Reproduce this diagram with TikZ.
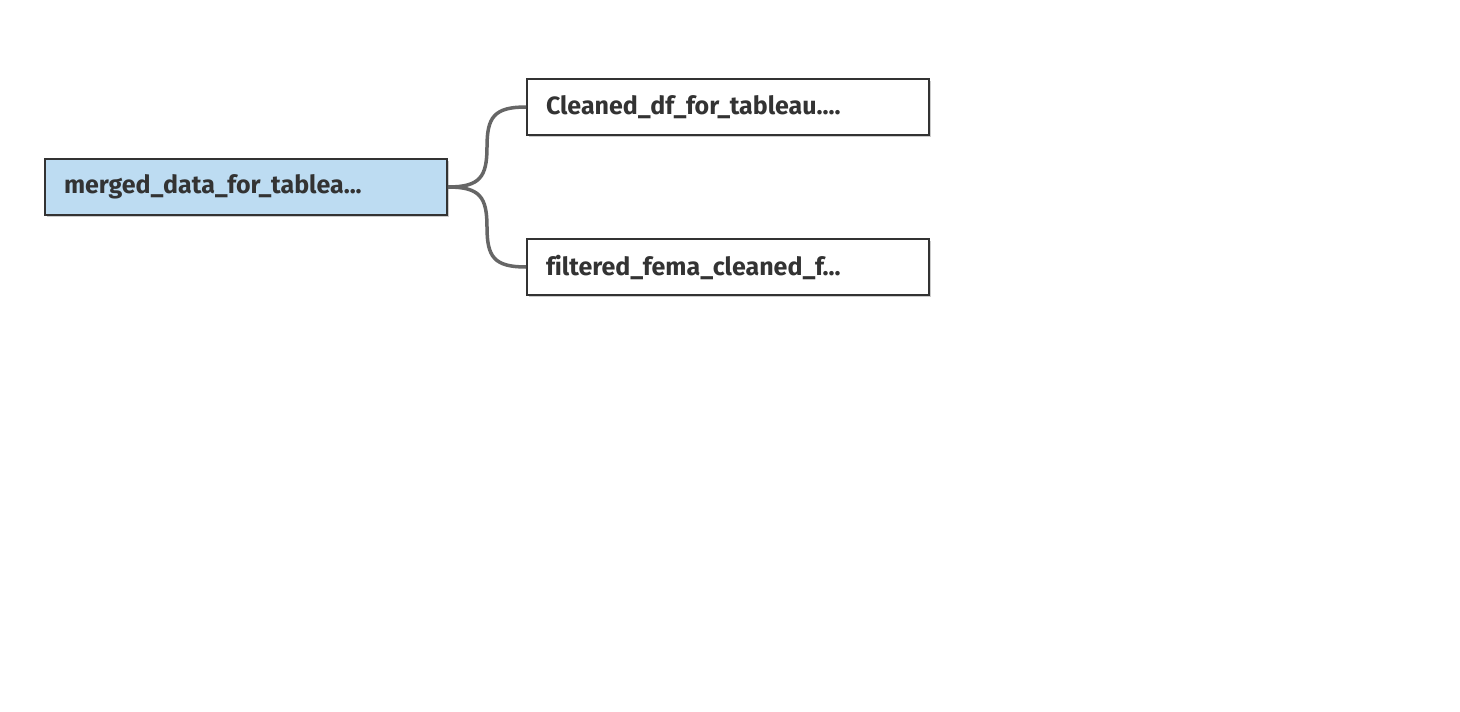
\documentclass[tikz,border=0pt]{standalone}
\usepackage{fontspec}
\setmainfont[Ligatures=NoCommon]{Fira Sans}
\usetikzlibrary{shadows}
\definecolor{boxline}{HTML}{333333}
\definecolor{txt}{HTML}{333333}
\definecolor{sel}{HTML}{BDDCF2}
\definecolor{conn}{HTML}{666666}
\begin{document}
\begin{tikzpicture}[x=1pt,y=-1pt,
  tbox/.style={draw=boxline, line width=1.8pt, fill=white, minimum width=402pt, minimum height=56pt,
    inner sep=0pt, text width=364pt, align=left, text=txt, font=\fontsize{25}{28}\selectfont\bfseries,
    drop shadow={shadow xshift=1.5pt, shadow yshift=-1.5pt, fill=black, opacity=0.2}},
  conn/.style={draw=conn, line width=3.5pt}]
\useasboundingbox[fill=white] (0,0) rectangle (1460,712);
\node[tbox, fill=sel] (m) at (246,187) {merged\_data\_for\_tablea...};
\node[tbox] (c) at (728,107) {Cleaned\_df\_for\_tableau....};
\node[tbox] (f) at (728,267) {filtered\_fema\_cleaned\_f...};
\draw[conn] (m.east) .. controls +(32,0) and +(0,30) .. (487,147) .. controls +(0,-30) and +(-32,0) .. (c.west);
\draw[conn] (m.east) .. controls +(32,0) and +(0,-30) .. (487,227) .. controls +(0,30) and +(-32,0) .. (f.west);
\end{tikzpicture}
\end{document}
